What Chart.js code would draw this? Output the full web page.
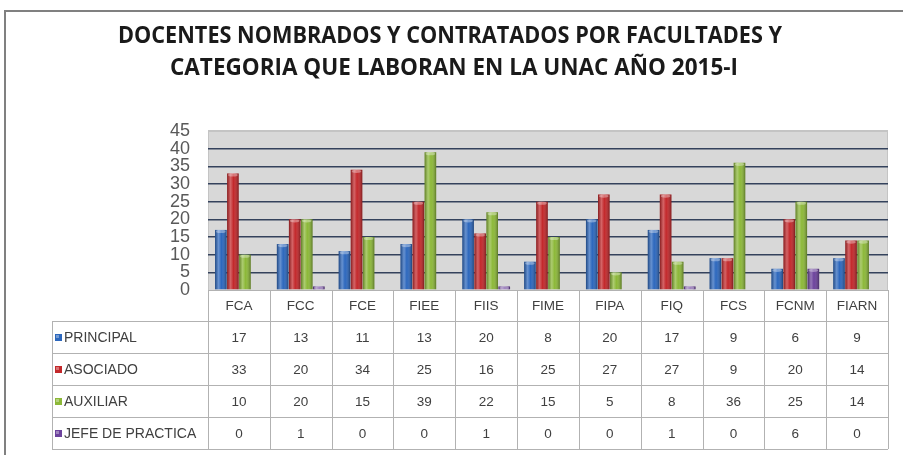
<!DOCTYPE html>
<html>
<head>
<meta charset="utf-8">
<style>
  html, body { margin: 0; padding: 0; background: #fff; }
  #wrap { width: 903px; height: 455px; position: relative; }
</style>
</head>
<body>
<div id="wrap"><canvas id="docentesChart"></canvas></div>
<script src="https://cdn.jsdelivr.net/npm/chart.js"></script>
<script>
    var facultades = ['FCA', 'FCC', 'FCE', 'FIEE', 'FIIS', 'FIME', 'FIPA', 'FIQ', 'FCS', 'FCNM', 'FIARN'];
    var principal = [17, 13, 11, 13, 20, 8, 20, 17, 9, 6, 9];
    var asociado = [33, 20, 34, 25, 16, 25, 27, 27, 9, 20, 14];
    var auxiliar = [10, 20, 15, 39, 22, 15, 5, 8, 36, 25, 14];
    var jefePractica = [0, 1, 0, 0, 1, 0, 0, 1, 0, 6, 0];
    var categorias = ['PRINCIPAL', 'ASOCIADO', 'AUXILIAR', 'JEFE DE PRACTICA'];
    var yTicks = [0, 5, 10, 15, 20, 25, 30, 35, 40, 45];
    var titleLines = [
        'DOCENTES NOMBRADOS Y CONTRATADOS POR FACULTADES Y',
        'CATEGORIA QUE LABORAN EN LA UNAC AÑO 2015-I'
    ];

    var seriesColors = ['#2c67bd', '#c3282b', '#8cb838', '#6c429c'];
    var seriesData = [principal, asociado, auxiliar, jefePractica];

    // frame, plot background
    var backgroundPlugin = {
        id: 'background',
        beforeDraw: function (chart) {
            var ctx = chart.ctx, a = chart.chartArea;
            ctx.save();
            ctx.fillStyle = '#ffffff';
            ctx.fillRect(0, 0, chart.width, chart.height);
            ctx.strokeStyle = '#808080';
            ctx.lineWidth = 2;
            ctx.beginPath();
            ctx.moveTo(5, chart.height);
            ctx.lineTo(5, 11);
            ctx.lineTo(chart.width, 11);
            ctx.stroke();
            ctx.fillStyle = '#d8d8d8';
            ctx.fillRect(a.left, a.top, a.right - a.left, a.bottom - a.top);
            ctx.strokeStyle = '#c4c4c4';
            ctx.lineWidth = 1;
            ctx.strokeRect(a.left + 0.5, a.top + 0.5, a.right - a.left - 1, a.bottom - a.top);
            ctx.restore();
        }
    };

    // cylinder-like shading over each bar
    var shadingPlugin = {
        id: 'shading',
        afterDatasetsDraw: function (chart) {
            var ctx = chart.ctx;
            ctx.save();
            chart.data.datasets.forEach(function (ds, di) {
                chart.getDatasetMeta(di).data.forEach(function (bar) {
                    var p = bar.getProps(['x', 'y', 'base', 'width'], true);
                    var l = p.x - p.width / 2, h = p.base - p.y;
                    if (h < 0.5) return;
                    var g = ctx.createLinearGradient(l, 0, l + p.width, 0);
                    g.addColorStop(0, 'rgba(0,0,0,0.30)');
                    g.addColorStop(0.3, 'rgba(255,255,255,0.28)');
                    g.addColorStop(0.55, 'rgba(255,255,255,0.0)');
                    g.addColorStop(1, 'rgba(0,0,0,0.35)');
                    ctx.fillStyle = g;
                    ctx.fillRect(l, p.y, p.width, h);
                    ctx.fillStyle = 'rgba(255,255,255,0.35)';
                    ctx.beginPath();
                    ctx.ellipse(p.x, p.y + 1.5, p.width / 2 - 1, 1.6, 0, 0, Math.PI * 2);
                    ctx.fill();
                });
            });
            ctx.restore();
        }
    };

    // two-line title
    var titlePlugin = {
        id: 'twoLineTitle',
        afterDraw: function (chart) {
            var ctx = chart.ctx;
            var spots = [{ cx: 450, cy: 36, w: 664 }, { cx: 454, cy: 68, w: 568 }];
            ctx.save();
            ctx.font = 'bold 23px "Open Sans", "Liberation Sans", sans-serif';
            ctx.fillStyle = '#1a1a1a';
            ctx.textBaseline = 'middle';
            ctx.textAlign = 'center';
            titleLines.forEach(function (t, i) {
                var s = spots[i];
                var k = s.w / ctx.measureText(t).width;
                ctx.setTransform(k, 0, 0, 1, s.cx, s.cy);
                ctx.fillText(t, 0, 0);
            });
            ctx.restore();
        }
    };

    // data table under the plot
    var tablePlugin = {
        id: 'dataTable',
        afterDraw: function (chart) {
            var ctx = chart.ctx, x = chart.scales.x, a = chart.chartArea;
            var n = facultades.length;
            var colW = (x.right - x.left) / n;
            var top = a.bottom, headH = 31, rowH = 32, left = 52;
            var bottom = top + headH + rowH * categorias.length;
            ctx.save();
            ctx.strokeStyle = '#b2b2b2';
            ctx.lineWidth = 1;
            ctx.beginPath();
            ctx.moveTo(x.left, top + 0.5);
            ctx.lineTo(x.right, top + 0.5);
            for (var k = 0; k <= n; k++) {
                var vx = Math.round(x.left + k * colW) + 0.5;
                ctx.moveTo(vx, top);
                ctx.lineTo(vx, bottom);
            }
            for (var r = 0; r <= categorias.length; r++) {
                var hy = top + headH + r * rowH + 0.5;
                ctx.moveTo(left, hy);
                ctx.lineTo(x.right, hy);
            }
            ctx.moveTo(left + 0.5, top + headH);
            ctx.lineTo(left + 0.5, bottom);
            ctx.stroke();

            ctx.fillStyle = '#404040';
            ctx.font = '13.5px "Liberation Sans", sans-serif';
            ctx.textAlign = 'center';
            ctx.textBaseline = 'middle';
            facultades.forEach(function (f, i) {
                ctx.fillText(f, x.getPixelForValue(i), top + headH / 2 + 1);
            });
            categorias.forEach(function (c, r) {
                var cy = top + headH + r * rowH + rowH / 2 + 1;
                ctx.fillStyle = seriesColors[r];
                ctx.fillRect(55, cy - 4, 7, 7);
                ctx.fillStyle = 'rgba(255,255,255,0.35)';
                ctx.fillRect(56, cy - 3, 3, 3);
                ctx.fillStyle = '#404040';
                ctx.textAlign = 'left';
                ctx.font = '14px "Liberation Sans", sans-serif';
                ctx.fillText(c, 64, cy);
                ctx.textAlign = 'center';
                ctx.font = '13.5px "Liberation Sans", sans-serif';
                seriesData[r].forEach(function (v, i) {
                    ctx.fillText(String(v), x.getPixelForValue(i), cy);
                });
            });
            ctx.restore();
        }
    };

    var ctx = document.getElementById('docentesChart').getContext('2d');
    var docentesChart = new Chart(ctx, {
        type: 'bar',
        data: {
            labels: facultades,
            datasets: categorias.map(function (c, i) {
                return {
                    label: c,
                    data: seriesData[i],
                    backgroundColor: seriesColors[i],
                    borderWidth: 0,
                    categoryPercentage: 0.78,
                    barPercentage: 0.96
                };
            })
        },
        options: {
            responsive: true,
            maintainAspectRatio: false,
            animation: false,
            layout: { padding: { top: 131, right: 15, bottom: 165, left: 0 } },
            plugins: {
                legend: { display: false },
                title: { display: false },
                tooltip: { enabled: false }
            },
            scales: {
                x: { display: false },
                y: {
                    min: 0,
                    max: 45,
                    afterBuildTicks: function (scale) {
                        scale.ticks = yTicks.map(function (v) { return { value: v }; });
                    },
                    afterFit: function (scale) {
                        scale.width = 208;
                    },
                    border: { display: false },
                    grid: {
                        drawTicks: false,
                        color: function (c) {
                            if (c.tick.value === 0) return 'rgba(0,0,0,0)';
                            if (c.tick.value === 45) return '#c4c4c4';
                            return '#34425c';
                        },
                        lineWidth: 1.5
                    },
                    ticks: {
                        autoSkip: false,
                        padding: 18,
                        color: '#595959',
                        font: { family: '"Liberation Sans", sans-serif', size: 18, lineHeight: 1 }
                    }
                }
            }
        },
        plugins: [backgroundPlugin, shadingPlugin, titlePlugin, tablePlugin]
    });
</script>
</body>
</html>
